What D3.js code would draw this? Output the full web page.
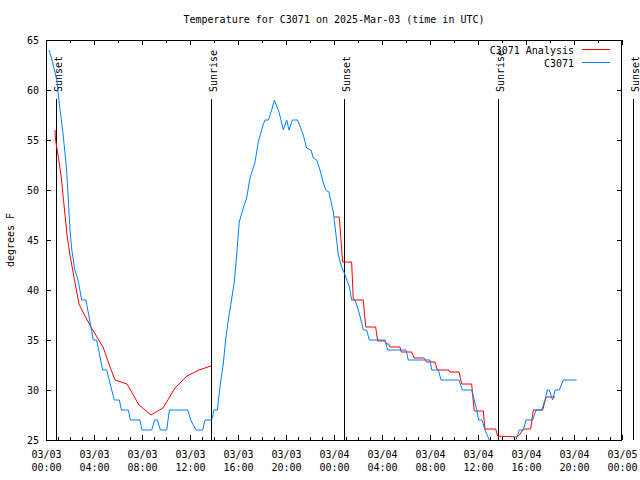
<!DOCTYPE html>
<html><head><meta charset="utf-8">
<script src="https://cdn.jsdelivr.net/npm/d3@7"></script>
<style>
body{margin:0;background:#fff}
svg text{font-family:"DejaVu Sans Mono","Liberation Mono",monospace;font-size:10px;fill:#000}
</style>
</head><body>
<svg id="chart" width="640" height="480"></svg>
<script>
// ---------------- DATA ----------------
const titleText = "Temperature for C3071 on 2025-Mar-03 (time in UTC)";
const yLabelText = "degrees F";
const seriesNames = ["C3071 Analysis", "C3071"];
const seriesColors = ["#ff0000", "#0080ff"];
const startUTC = Date.UTC(2025, 2, 3, 0, 0);   // 03/03 00:00 UTC
const xDomainHours = [0, 48];
const yDomain = [25, 65];
const yTicks = [25, 30, 35, 40, 45, 50, 55, 60, 65];

// Analysis (red): hours since start, °F (null = gap)
const analysisHours = [0.75,0.8,1.0,1.25,1.5,1.75,2.0,2.25,2.5,2.75,3.25,3.75,4.25,4.75,5.25,5.75,6.75,7.75,8.75,9.75,10.75,11.75,12.75,13.75,
  18.9,
  24.03,24.44,24.72,25.47,25.61,26.44,26.64,27.47,27.64,28.25,28.4,28.55,28.67,29.5,29.6,30.47,30.67,31.5,31.72,32.42,32.61,33.58,33.65,34.42,34.64,35.47,35.69,36.44,36.58,37.47,37.64,39.22,39.45,39.78,40.39,40.61,41.39,41.67,42.42];
const analysisTemps = [56,55,53.5,51.5,48.5,45.5,43.5,41.8,40.2,38.6,37.4,36.3,35.3,34.3,32.6,31,30.6,28.5,27.5,28.2,30.2,31.4,32,32.4,
  null,
  47.3,47.3,42.8,42.8,39,39,36.3,36.3,34.9,34.9,34.6,34.6,34.3,34.3,33.8,33.8,33.2,33.2,32.8,32.8,32,32,31.8,31.8,30.6,30.6,27.9,27.9,26.1,26.1,25.4,25.3,25.5,26.1,26.1,28,28,29.3,29.3];

// Station observations (blue): hours since start, °F
const stationHours = [0.25,0.5,0.9,1.1,1.45,1.72,1.92,2.0,2.15,2.4,2.6,2.75,2.97,3.33,3.94,4.22,4.72,5.06,5.69,6.11,6.28,6.86,7.03,7.83,8.0,8.81,9.06,9.28,9.53,10.06,10.28,11.81,12.06,12.5,13.06,13.25,13.81,14.0,14.28,14.42,14.58,14.78,14.97,15.19,15.42,15.69,15.89,16.1,16.44,16.72,17.0,17.42,17.69,18.03,18.25,18.53,18.81,19.03,19.42,19.78,20.06,20.25,20.53,20.97,21.44,21.72,22.08,22.28,22.56,22.83,23.11,23.31,23.58,23.94,24.14,24.36,24.64,24.92,25.28,25.47,25.75,26.03,26.31,26.44,26.72,26.94,28.25,28.47,30.0,30.19,32.0,32.14,32.69,32.92,34.42,34.69,35.47,35.69,35.9,36.05,36.33,36.58,36.94,37.2,38.9,39.17,39.44,39.78,40.0,40.56,40.83,41.31,41.58,41.78,41.94,42.22,42.42,42.78,43.11,44.22];
const stationTemps = [64,63,61,58.7,55.3,52,47.7,46,44,42,41.3,40.5,39,39,35,35,32,32,29,29,28,28,27,27,26,26,27,27,26,26,28,28,27,26,26,27,27,28,28,29.5,31,32.7,35,37,38.7,40.8,43.5,46.8,48.2,49.2,51.2,52.8,54.8,56.3,57,57,58,59,57.8,56,57,56,57,57,55.5,54.2,54,53.2,53,52,50.7,50,49.8,47.8,45.8,43.5,42.3,41.5,40.3,39,39,38,36.7,36,36,35,35,34,34,33,33,32,32,31,31,30,30,29,28,27,27,26,25,24,24,25,26,26,27,27,28,28,29,30,30,29,30,30,31,31];

// Sun events: hours since start
const sunEventHours = [0.86, 13.72, 24.875, 37.65, 48.875];
const sunEventNames = ["Sunset", "Sunrise", "Sunset", "Sunrise", "Sunset"];

// ---------------- CHART ----------------
const svg = d3.select("#chart");
const L = 46, R = 622, T = 40, B = 440;
const toDate = h => new Date(startUTC + h * 3600e3);

const x = d3.scaleUtc().domain(xDomainHours.map(toDate)).range([L, R]);
const y = d3.scaleLinear().domain(yDomain).range([B, T]);

svg.append("defs").append("clipPath").attr("id", "plotclip")
  .append("rect").attr("x", L).attr("y", T).attr("width", R - L).attr("height", B - T);

// title
svg.append("text").attr("x", 334).attr("y", 23).attr("text-anchor", "middle").text(titleText);

// y label
svg.append("text").attr("transform", "translate(14,240) rotate(-90)")
  .attr("text-anchor", "middle").text(yLabelText);

// bottom axis: labels every 4h, minor ticks hourly
const majorDates = d3.utcHour.every(4).range(toDate(0), toDate(48.01));
const hourDates = d3.utcHour.every(1).range(toDate(0), toDate(48.01));
const twoHourDates = d3.utcHour.every(2).range(toDate(0), toDate(48.01));
const fmtDay = d3.utcFormat("%m/%d"), fmtTime = d3.utcFormat("%H:%M");

const gx = svg.append("g").attr("transform", `translate(0,${B})`)
  .call(d3.axisBottom(x).tickValues(majorDates).tickSizeInner(-5).tickSizeOuter(0).tickFormat(""));
gx.select(".domain").remove();
gx.selectAll(".tick line").attr("stroke", "#000");
gx.selectAll(".tick text").each(function(d) {
  const t = d3.select(this).attr("y", null).attr("dy", null).attr("fill", "#000").attr("font-size", null).attr("font-family", null);
  t.append("tspan").attr("x", 0).attr("y", 18).text(fmtDay(d));
  t.append("tspan").attr("x", 0).attr("y", 31).text(fmtTime(d));
});
// minor bottom ticks
const gxm = svg.append("g").attr("transform", `translate(0,${B})`)
  .call(d3.axisBottom(x).tickValues(hourDates.filter(d => d.getUTCHours() % 4 !== 0)).tickSizeInner(-3).tickSizeOuter(0).tickFormat(""));
gxm.select(".domain").remove();
gxm.selectAll(".tick line").attr("stroke", "#000");

// top axis
const gxt = svg.append("g").attr("transform", `translate(0,${T})`)
  .call(d3.axisTop(x).tickValues(majorDates).tickSizeInner(-5).tickSizeOuter(0).tickFormat(""));
gxt.select(".domain").remove();
gxt.selectAll(".tick line").attr("stroke", "#000");
const gxtm = svg.append("g").attr("transform", `translate(0,${T})`)
  .call(d3.axisTop(x).tickValues(twoHourDates.filter(d => d.getUTCHours() % 4 !== 0)).tickSizeInner(-3).tickSizeOuter(0).tickFormat(""));
gxtm.select(".domain").remove();
gxtm.selectAll(".tick line").attr("stroke", "#000");

// left axis
const gy = svg.append("g").attr("transform", `translate(${L},0)`)
  .call(d3.axisLeft(y).tickValues(yTicks).tickSizeInner(-5).tickSizeOuter(0).tickPadding(7).tickFormat(d3.format("d")));
gy.select(".domain").remove();
gy.selectAll(".tick line").attr("stroke", "#000");
gy.selectAll(".tick text").attr("fill", "#000").attr("font-size", null).attr("font-family", null).attr("dy", "0.35em");
gy.attr("font-size", null).attr("font-family", null);
gx.attr("font-size", null).attr("font-family", null);

// right axis ticks
const gyr = svg.append("g").attr("transform", `translate(${R},0)`)
  .call(d3.axisRight(y).tickValues(yTicks).tickSizeInner(-5).tickSizeOuter(0).tickFormat(""));
gyr.select(".domain").remove();
gyr.selectAll(".tick line").attr("stroke", "#000");

// frame
svg.append("rect").attr("x", L + 0.5).attr("y", T + 0.5).attr("width", R - L - 1).attr("height", B - T)
  .attr("fill", "none").attr("stroke", "#000").attr("stroke-width", 1);

// sun event lines
const sunG = svg.append("g");
sunEventHours.forEach((h, i) => {
  const xx = Math.round(x(toDate(h))) + 0.5;
  sunG.append("line").attr("x1", xx).attr("x2", xx).attr("y1", 99).attr("y2", B)
    .attr("stroke", "#000").attr("stroke-width", 1);
  sunG.append("text").attr("transform", `translate(${xx + 5},92) rotate(-90)`)
    .attr("text-anchor", "start").text(sunEventNames[i]);
});

// data lines
const plotG = svg.append("g").attr("clip-path", "url(#plotclip)");
const line = d3.line().defined(d => d[1] !== null).x(d => x(toDate(d[0]))).y(d => y(d[1]));
const analysisData = analysisHours.map((h, i) => [h, analysisTemps[i]]);
const stationData = stationHours.map((h, i) => [h, stationTemps[i]]);
plotG.append("path").datum(analysisData).attr("d", line)
  .attr("fill", "none").attr("stroke", seriesColors[0]).attr("stroke-width", 1);
plotG.append("path").datum(stationData).attr("d", line)
  .attr("fill", "none").attr("stroke", seriesColors[1]).attr("stroke-width", 1);

// legend
seriesNames.forEach((name, i) => {
  const by = 54 + i * 13;
  svg.append("text").attr("x", 574).attr("y", by).attr("text-anchor", "end").text(name);
  svg.append("line").attr("x1", 582).attr("x2", 610).attr("y1", by - 4.5).attr("y2", by - 4.5)
    .attr("stroke", seriesColors[i]).attr("stroke-width", 1);
});
</script>
</body></html>
